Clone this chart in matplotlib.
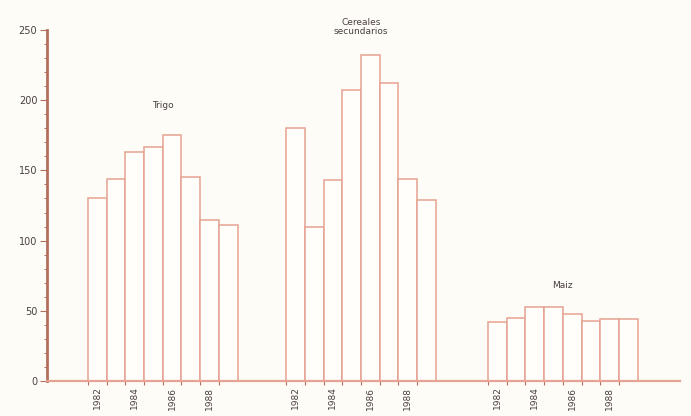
import matplotlib.pyplot as plt
from matplotlib.ticker import MultipleLocator

years = [1982, 1983, 1984, 1985, 1986, 1987, 1988, 1989]
trigo = [130, 144, 163, 167, 175, 145, 115, 111]
cereales = [180, 110, 143, 207, 232, 212, 144, 129]
maiz = [42, 45, 53, 53, 48, 43, 44, 44]

groups = ["Trigo", "Cereales\nsecundarios", "Maiz"]
series = [trigo, cereales, maiz]
offsets = [0, 10.6, 21.4]
label_y = [196, 252, 68]

edge = "#e6a292"
axis_col = "#b46e5e"
text_col = "#4a4040"

fig = plt.figure(figsize=(6.91, 4.16), dpi=100)
fig.patch.set_facecolor("#fdfcf7")
ax = fig.add_axes([0.068, 0.084, 0.916, 0.844])
ax.set_facecolor("#fdfcf7")

centers, labels, edges = [], [], []
for name, vals, off, ly in zip(groups, series, offsets, label_y):
    xs = [off + i + 0.5 for i in range(len(vals))]
    ax.bar(xs, vals, width=1.0, facecolor="#fffefa", edgecolor=edge, linewidth=1.1)
    for i, yr in enumerate(years):
        edges.append(off + i)
        if yr % 2 == 0:
            centers.append(xs[i])
            labels.append(str(yr))
    ax.text(off + len(vals) / 2, ly, name, ha="center", va="center",
            fontsize=6.5, color=text_col, linespacing=1.0, clip_on=False)

ax.set_xlim(-2.19, 31.66)
ax.set_ylim(0, 250)

for s in ["top", "right"]:
    ax.spines[s].set_visible(False)
ax.spines["left"].set_color(axis_col)
ax.spines["left"].set_linewidth(2)
ax.spines["bottom"].set_color(edge)
ax.spines["bottom"].set_linewidth(1.6)

ax.set_yticks([0, 50, 100, 150, 200, 250])
ax.yaxis.set_minor_locator(MultipleLocator(10))
ax.tick_params(axis="y", which="major", length=5, width=0.8, color=axis_col,
               labelsize=7, labelcolor=text_col, pad=2)
ax.tick_params(axis="y", which="minor", length=2, width=0.7, color=axis_col)

ax.set_xticks(centers)
ax.set_xticklabels(labels, rotation=90, fontsize=6.5, color=text_col)
ax.set_xticks(edges, minor=True)
ax.tick_params(axis="x", which="major", length=0, pad=4)
ax.tick_params(axis="x", which="minor", length=3, width=0.8, color=axis_col)

fig.savefig("out.png", dpi=100, facecolor=fig.get_facecolor())
